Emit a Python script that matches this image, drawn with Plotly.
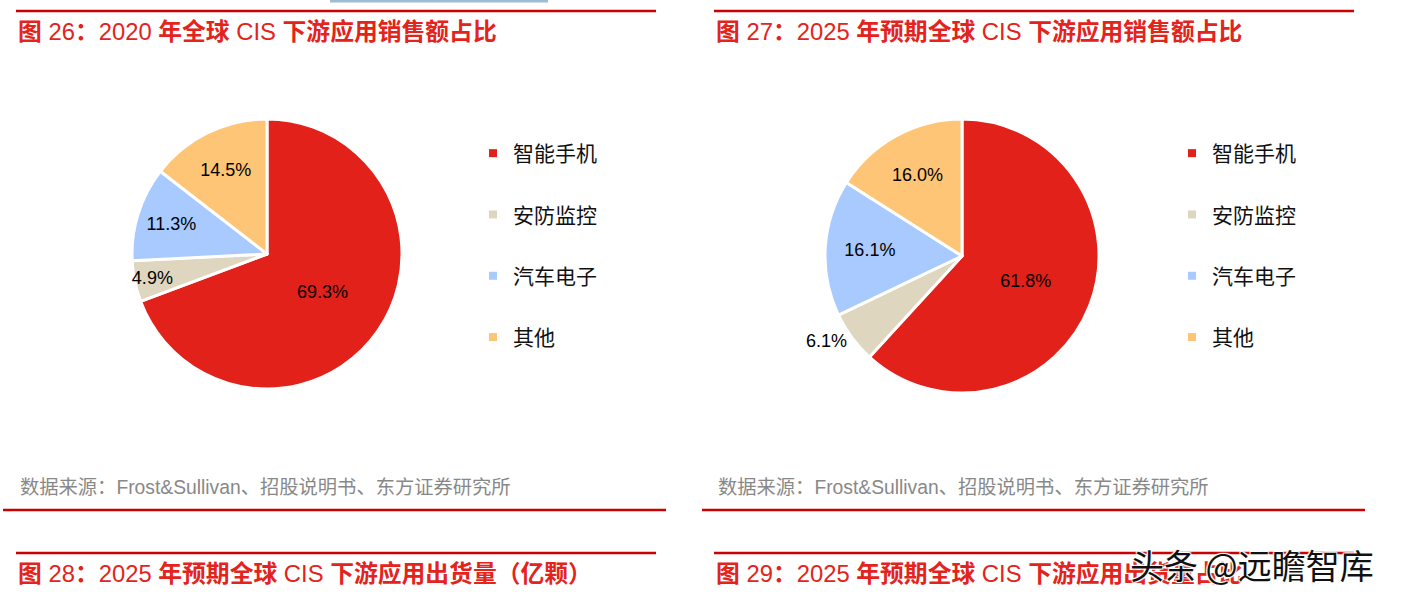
import re
import plotly.graph_objects as go

# ---------------- data ----------------
categories = ["智能手机", "安防监控", "汽车电子", "其他"]
share_2020 = [69.3, 4.9, 11.3, 14.5]
share_2025 = [61.8, 6.1, 16.1, 16.0]
colors = ["#E2211A", "#DFD6BF", "#A8CAFE", "#FFC576"]

title_26 = "图 26：2020 年全球 CIS 下游应用销售额占比"
title_27 = "图 27：2025 年预期全球 CIS 下游应用销售额占比"
title_28 = "图 28：2025 年预期全球 CIS 下游应用出货量（亿颗）"
title_29 = "图 29：2025 年预期全球 CIS 下游应用出货量占比"
source_text = "数据来源：Frost&Sullivan、招股说明书、东方证券研究所"
watermark = "头条 @远瞻智库"

# ---------------- layout helpers ----------------
W, H = 1403, 599
def px(x):
    return x / W
def py(y):
    return 1 - y / H

CJK = "Liberation Sans, Noto Sans CJK SC"
LAB = "Arial, Liberation Sans, sans-serif"

def bold_cjk(s):
    # CJK characters bold, latin characters regular (as in the report titles)
    return re.sub(r"([\u3000-\u303f\u4e00-\u9fff\uff00-\uffef]+)", r"<b>\1</b>", s)

fig = go.Figure()

def add_pie(values, cx, cy, r, positions):
    fig.add_trace(go.Pie(
        labels=categories,
        values=values,
        sort=False,
        direction="clockwise",
        rotation=0,
        marker=dict(colors=colors, line=dict(color="white", width=3)),
        texttemplate="%{value:.1f}%",
        textposition=positions,
        insidetextorientation="horizontal",
        textfont=dict(family=LAB, size=18, color="black"),
        showlegend=False,
        hoverinfo="label+value",
        domain=dict(x=[px(cx - r), px(cx + r)], y=[py(cy + r), py(cy - r)]),
    ))

add_pie(share_2020, 267, 254, 135, ["inside", "inside", "inside", "inside"])
add_pie(share_2025, 962, 256, 137, ["inside", "outside", "inside", "inside"])

# legend entries (one per category, each in its own group for spacing)
for lname in ["legend", "legend2"]:
    for i, (c, col) in enumerate(zip(categories, colors)):
        fig.add_trace(go.Scatter(
            x=[None], y=[None], mode="markers",
            marker=dict(symbol="square", size=8, color=col),
            name=c, legend=lname, legendgroup=f"{lname}_{i}",
            showlegend=True, hoverinfo="skip",
        ))

legend_common = dict(
    font=dict(family="Noto Sans CJK SC", size=21, color="#111111"),
    bgcolor="rgba(0,0,0,0)", borderwidth=0,
    tracegroupgap=31, xanchor="left", yanchor="top",
    itemclick=False, itemdoubleclick=False,
)

annotations = []
def text(x, y, s, size, color, anchor="left"):
    annotations.append(dict(
        x=px(x), y=py(y), xref="paper", yref="paper", text=s, showarrow=False,
        xanchor=anchor, yanchor="middle",
        font=dict(family=CJK, size=size, color=color),
    ))

TITLE_RED = "#E3231C"
text(16, 31, bold_cjk(title_26), 23.8, TITLE_RED)
text(714, 31, bold_cjk(title_27), 23.8, TITLE_RED)
text(18, 487, source_text, 19.3, "#888888")
text(716, 487, source_text, 19.3, "#888888")
text(16, 573, bold_cjk(title_28), 23.8, TITLE_RED)
text(714, 573, bold_cjk(title_29), 23.8, TITLE_RED)
annotations.append(dict(
    x=px(1128), y=py(564), xref="paper", yref="paper", text=watermark, showarrow=False,
    xanchor="left", yanchor="middle",
    font=dict(family="Noto Sans CJK SC", size=34, color="#111111",
              shadow="1px 1px 1px white, -1px -1px 1px white, 1px -1px 1px white, -1px 1px 1px white"),
))

LINE_RED = "#CC0000"
shapes = []
def hline(x0, x1, y, color=LINE_RED, w=2.5):
    shapes.append(dict(type="line", xref="paper", yref="paper",
                       x0=px(x0), x1=px(x1), y0=py(y), y1=py(y),
                       line=dict(color=color, width=w)))
hline(16, 656, 11)
hline(714, 1354, 11)
hline(3, 666, 510)
hline(702, 1365, 510)
hline(16, 656, 553)
hline(714, 1354, 553)
shapes.append(dict(type="rect", xref="paper", yref="paper",
                   x0=px(330), x1=px(548), y0=py(2.5), y1=py(0),
                   fillcolor="#9EBCD6", line=dict(width=0)))

fig.update_layout(
    width=W, height=H, autosize=False,
    margin=dict(l=0, r=0, t=0, b=0),
    paper_bgcolor="white", plot_bgcolor="white",
    uniformtext=dict(minsize=18, mode="show"),
    xaxis=dict(visible=False, domain=[0, 0.001]),
    yaxis=dict(visible=False, domain=[0, 0.001]),
    legend=dict(x=px(473), y=py(133), **legend_common),
    legend2=dict(x=px(1172), y=py(133), **legend_common),
    annotations=annotations,
    shapes=shapes,
)

fig.write_html("out.html", config={"displayModeBar": False},
               post_script="document.body.style.margin='0';")
